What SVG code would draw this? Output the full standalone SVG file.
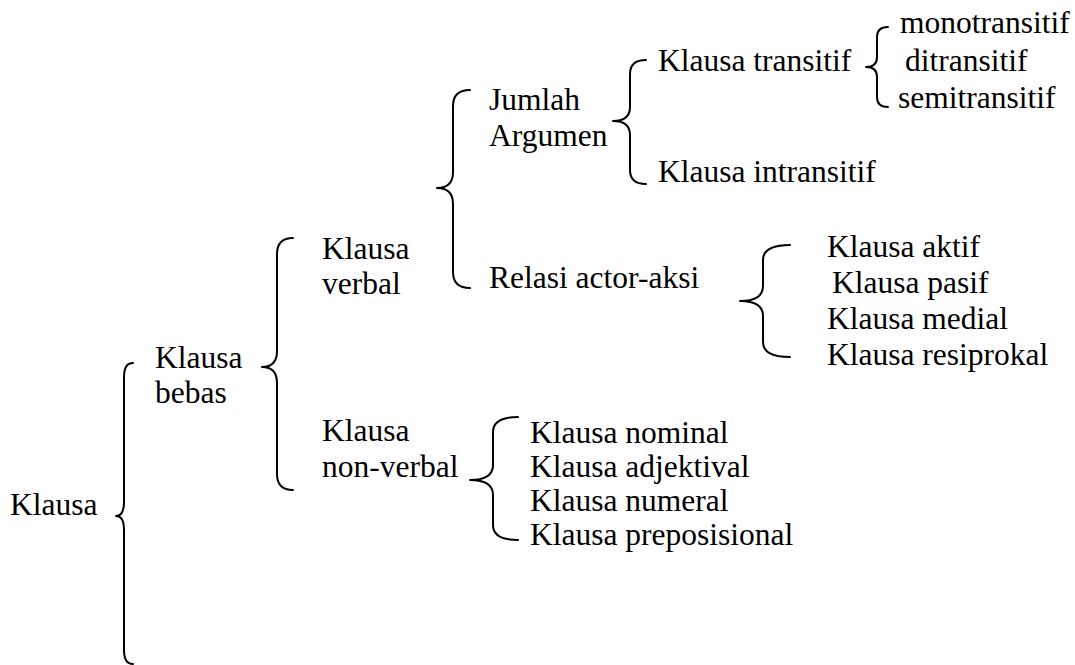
<svg xmlns="http://www.w3.org/2000/svg" width="1075" height="665" viewBox="0 0 1075 665">
  <style>
    text { font-family: "Liberation Serif", "Times New Roman", serif; font-size: 31.5px; fill: #000; }
    .brace { fill: none; stroke: #000; stroke-width: 2; stroke-linecap: round; stroke-linejoin: round; }
  </style>
  <rect width="1075" height="665" fill="#fff"/>

  <!-- curly braces joining each term to its sub-types -->
  <g id="connectors">
    <path class="brace" d="M133,363 Q124,363 124,377 L124,502 Q124,516 116,516 Q124,516 124,530 L124,650 Q124,664 133,664"/>
    <path class="brace" d="M293,238 Q277,238 277,254 L277,351 Q277,367 262,367 Q277,367 277,383 L277,474 Q277,490 293,490"/>
    <path class="brace" d="M470,90 Q453,90 453,106 L453,172 Q453,188 437,188 Q453,188 453,204 L453,272 Q453,288 470,288"/>
    <path class="brace" d="M646,60 Q630,60 630,74 L630,107 Q630,121 613,121 Q630,121 630,135 L630,170 Q630,184 646,184"/>
    <path class="brace" d="M888,27 Q877,27 877,37 L877,57 Q877,67 866,67 Q877,67 877,77 L877,97 Q877,107 888,107"/>
    <path class="brace" d="M518,417 Q493,417 493,432 L493,465 Q493,480 470,480 Q493,480 493,495 L493,525 Q493,540 518,540"/>
    <path class="brace" d="M790,245 Q763,245 763,260 L763,286 Q763,301 740,301 Q763,301 763,316 L763,342 Q763,357 790,357"/>
  </g>

  <g id="klausa"><text x="10" y="515">Klausa</text></g>

  <g id="klausa-bebas">
    <text x="155" y="368">Klausa</text>
    <text x="155" y="403">bebas</text>
  </g>

  <g id="klausa-verbal">
    <text x="322" y="259">Klausa</text>
    <text x="322" y="294">verbal</text>
  </g>

  <g id="klausa-non-verbal">
    <text x="322" y="441">Klausa</text>
    <text x="322" y="477">non-verbal</text>
  </g>

  <g id="jumlah-argumen">
    <text x="489" y="110">Jumlah</text>
    <text x="489" y="146">Argumen</text>
  </g>

  <g id="relasi-actor-aksi"><text x="489" y="288">Relasi actor-aksi</text></g>

  <g id="klausa-transitif"><text x="658" y="71">Klausa transitif</text></g>
  <g id="klausa-intransitif"><text x="658" y="182">Klausa intransitif</text></g>

  <g id="monotransitif"><text x="900" y="33">monotransitif</text></g>
  <g id="ditransitif"><text x="905" y="71">ditransitif</text></g>
  <g id="semitransitif"><text x="898" y="108">semitransitif</text></g>

  <g id="klausa-aktif"><text x="827" y="257">Klausa aktif</text></g>
  <g id="klausa-pasif"><text x="832" y="293">Klausa pasif</text></g>
  <g id="klausa-medial"><text x="827" y="329">Klausa medial</text></g>
  <g id="klausa-resiprokal"><text x="827" y="365">Klausa resiprokal</text></g>

  <g id="klausa-nominal"><text x="530" y="443">Klausa nominal</text></g>
  <g id="klausa-adjektival"><text x="530" y="477">Klausa adjektival</text></g>
  <g id="klausa-numeral"><text x="530" y="511">Klausa numeral</text></g>
  <g id="klausa-preposisional"><text x="530" y="545">Klausa preposisional</text></g>
</svg>
